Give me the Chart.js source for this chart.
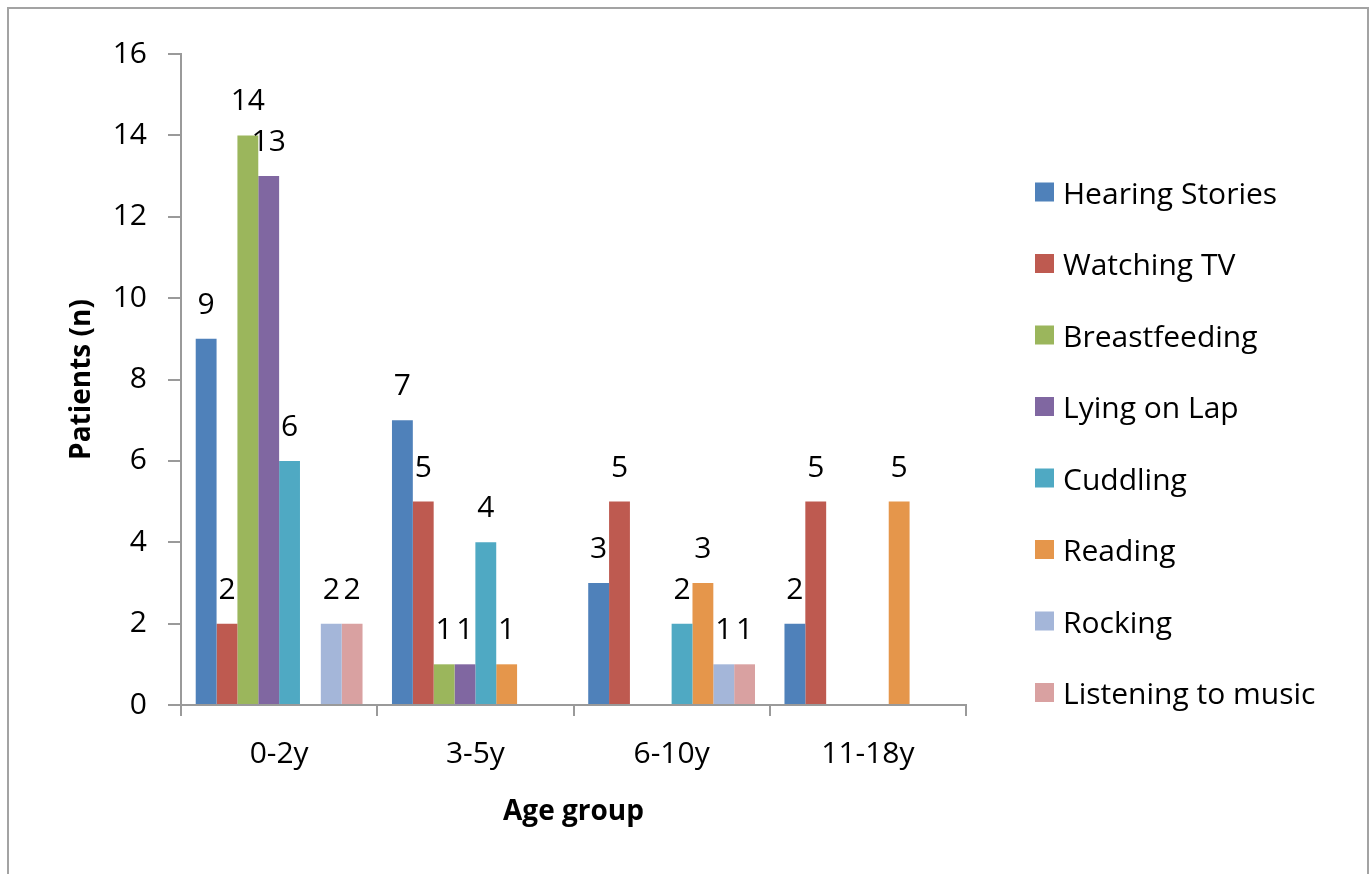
<!DOCTYPE html>
<html>
<head>
<meta charset="utf-8">
<script src="https://cdn.jsdelivr.net/npm/chart.js@4.4.1/dist/chart.umd.min.js"></script>
<style>
  html, body { margin: 0; padding: 0; background: #ffffff; }
  canvas { display: block; }
</style>
</head>
<body>
<canvas id="c" width="1372" height="874"></canvas>
<script>
// ---- data ----
const categories = ['0-2y', '3-5y', '6-10y', '11-18y'];
const seriesNames = ['Hearing Stories', 'Watching TV', 'Breastfeeding', 'Lying on Lap', 'Cuddling', 'Reading', 'Rocking', 'Listening to music'];
const hearingStories   = [9, 7, 3, 2];
const watchingTV       = [2, 5, 5, 5];
const breastfeeding    = [14, 1, null, null];
const lyingOnLap       = [13, 1, null, null];
const cuddling         = [6, 4, 2, null];
const reading          = [null, 1, 3, 5];
const rocking          = [2, null, 1, null];
const listeningToMusic = [2, null, 1, null];
const yMin = 0, yMax = 16, yStep = 2;
const xTitle = 'Age group';
const yTitle = 'Patients (n)';

const seriesValues = [hearingStories, watchingTV, breastfeeding, lyingOnLap, cuddling, reading, rocking, listeningToMusic];
const seriesColors = ['#4F81BA', '#BE5A50', '#9BB65C', '#8067A1', '#4FA9C3', '#E5964B', '#A4B6D9', '#D9A1A1'];

const FONT = "'Open Sans', 'Liberation Sans', sans-serif";
const AXIS_COLOR = '#9a9a9a';
const TEXT_COLOR = '#000000';

const borderPlugin = {
  id: 'outerBorder',
  beforeDraw(chart) {
    const ctx = chart.ctx;
    ctx.save();
    ctx.fillStyle = '#ffffff';
    ctx.fillRect(0, 0, chart.width, chart.height);
    ctx.strokeStyle = '#a3a3a3';
    ctx.lineWidth = 2;
    ctx.strokeRect(8, 8, 1360, 900);
    ctx.restore();
  }
};

const valueLabelPlugin = {
  id: 'valueLabels',
  afterDatasetsDraw(chart) {
    const ctx = chart.ctx;
    ctx.save();
    ctx.font = '30px ' + FONT;
    ctx.fillStyle = TEXT_COLOR;
    ctx.textAlign = 'center';
    ctx.textBaseline = 'alphabetic';
    chart.data.datasets.forEach((ds, i) => {
      const meta = chart.getDatasetMeta(i);
      meta.data.forEach((bar, j) => {
        const v = ds.data[j];
        if (v === null || v === undefined) return;
        ctx.fillText(String(v), bar.x, bar.y - 25);
      });
    });
    ctx.restore();
  }
};

const legendPlugin = {
  id: 'sideLegend',
  afterDraw(chart) {
    const ctx = chart.ctx;
    ctx.save();
    ctx.font = '30px ' + FONT;
    ctx.textAlign = 'left';
    ctx.textBaseline = 'middle';
    chart.data.datasets.forEach((ds, i) => {
      const cy = 192 + i * 71.5;
      ctx.fillStyle = ds.backgroundColor;
      ctx.fillRect(1035, cy - 9.5, 19, 19);
      ctx.fillStyle = TEXT_COLOR;
      ctx.fillText(ds.label, 1063, cy + 3);
    });
    ctx.restore();
  }
};

new Chart(document.getElementById('c'), {
  type: 'bar',
  data: {
    labels: categories,
    datasets: seriesNames.map((name, i) => ({
      label: name,
      data: seriesValues[i],
      backgroundColor: seriesColors[i],
      borderWidth: 0,
      barPercentage: 1.0,
      categoryPercentage: 0.85
    }))
  },
  options: {
    responsive: false,
    devicePixelRatio: 1,
    animation: false,
    layout: { padding: { left: 65, right: 406, top: 54, bottom: 45 } },
    plugins: {
      legend: { display: false },
      tooltip: { enabled: false }
    },
    scales: {
      x: {
        grid: {
          display: true,
          offset: true,
          drawOnChartArea: false,
          drawTicks: true,
          tickLength: 11,
          color: AXIS_COLOR,
          lineWidth: 2
        },
        border: { display: true, color: AXIS_COLOR, width: 2 },
        ticks: {
          font: { family: FONT, size: 30 },
          color: TEXT_COLOR,
          padding: 20,
          maxRotation: 0
        },
        title: {
          display: true,
          text: xTitle,
          font: { family: FONT, size: 28, weight: 'bold' },
          color: TEXT_COLOR,
          padding: 0
        },
        afterFit(scale) { scale.height = 124; }
      },
      y: {
        min: yMin,
        max: yMax,
        ticks: {
          stepSize: yStep,
          font: { family: FONT, size: 30 },
          color: TEXT_COLOR,
          padding: 21
        },
        grid: {
          display: true,
          drawOnChartArea: false,
          drawTicks: true,
          tickLength: 13,
          color: AXIS_COLOR,
          lineWidth: 2
        },
        border: { display: true, color: AXIS_COLOR, width: 2 },
        title: {
          display: true,
          text: yTitle,
          font: { family: FONT, size: 28, weight: 'bold' },
          color: TEXT_COLOR,
          padding: 0
        },
        afterFit(scale) { scale.width = 116; }
      }
    }
  },
  plugins: [borderPlugin, valueLabelPlugin, legendPlugin]
});
</script>
</body>
</html>
